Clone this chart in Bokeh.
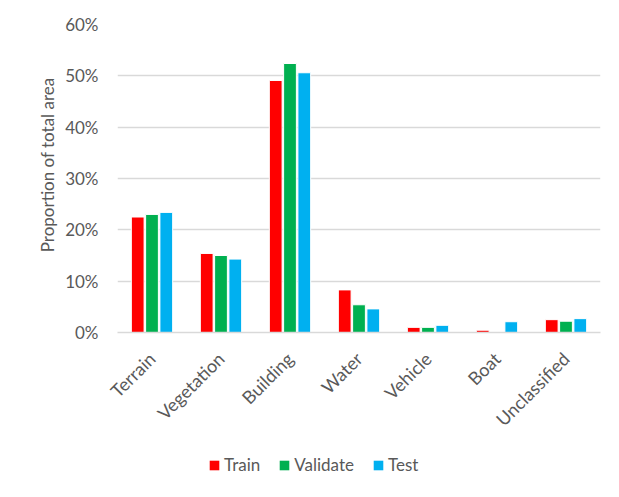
import numpy as np
from bokeh.plotting import figure
from bokeh.layouts import column
from bokeh.models import (ColumnDataSource, FactorRange, Range1d, NumeralTickFormatter, Legend,
                          LegendItem, FixedTicker, Title)
from bokeh.transform import dodge
from bokeh.embed import file_html
from bokeh.resources import INLINE

categories = ["Terrain", "Vegetation", "Building", "Water", "Vehicle", "Boat", "Unclassified"]
train = [0.225, 0.154, 0.491, 0.083, 0.010, 0.0045, 0.025]
validate = [0.230, 0.150, 0.524, 0.054, 0.010, 0.0, 0.022]
test = [0.234, 0.143, 0.506, 0.046, 0.014, 0.021, 0.027]
series_names = ["Train", "Validate", "Test"]
colors = ["#FF0000", "#00B050", "#00B0F0"]
y_ticks = [0, 0.1, 0.2, 0.3, 0.4, 0.5, 0.6]

FONT = "Lato"
TXT = "#595959"

src = ColumnDataSource(dict(cat=categories, Train=train, Validate=validate, Test=test))

p = figure(x_range=FactorRange(*categories, range_padding=0), y_range=Range1d(0, 0.6),
           width=611, height=440, output_backend="svg", toolbar_location=None,
           min_border_left=117, min_border_right=11, min_border_top=24, min_border_bottom=106)
p.x_range.factor_padding = 0

offsets = [-0.207, 0.0, 0.207]
for name, col, off in zip(series_names, colors, offsets):
    p.vbar(x=dodge("cat", off, range=p.x_range), top=name, width=0.185, source=src,
           fill_color=col, line_color="white", line_width=1)

p.outline_line_color = None
p.xgrid.grid_line_color = None
p.ygrid.grid_line_color = "#D9D9D9"
p.ygrid.grid_line_width = 1.3
p.yaxis.ticker = FixedTicker(ticks=y_ticks)
p.yaxis.formatter = NumeralTickFormatter(format="0%")
p.yaxis.axis_line_color = None
p.yaxis.major_tick_line_color = None
p.yaxis.minor_tick_line_color = None
p.yaxis.major_label_text_font = FONT
p.yaxis.major_label_text_font_size = "17px"
p.yaxis.major_label_text_color = TXT
p.yaxis.major_label_standoff = 13

ytitle = Title(text="Proportion of total area", align="right", offset=53, standoff=10,
               text_font=FONT, text_font_size="17px", text_font_style="normal", text_color=TXT)
p.add_layout(ytitle, "left")

p.xaxis.axis_line_color = "#D9D9D9"
p.xaxis.axis_line_width = 1.3
p.xaxis.major_tick_line_color = None
p.xaxis.minor_tick_line_color = None
p.xaxis.major_label_orientation = np.pi / 4
p.xaxis.major_label_text_font = FONT
p.xaxis.major_label_text_font_size = "18px"
p.xaxis.major_label_text_color = TXT
p.xaxis.major_label_standoff = 17

# legend strip (bars of the legend figure lie outside its visible y range)
q = figure(x_range=FactorRange(*categories), y_range=Range1d(5, 6), width=611, height=49,
           output_backend="svg", toolbar_location=None, x_axis_location=None, y_axis_location=None,
           min_border=0)
q.outline_line_color = None
q.grid.visible = False
leg_rs = [q.vbar(x="cat", top=n, width=0.1, source=src, fill_color=c, line_color=None)
          for n, c in zip(series_names, colors)]
legend = Legend(items=[LegendItem(label=n, renderers=[r]) for n, r in zip(series_names, leg_rs)],
                orientation="horizontal", location=(91, 14),
                glyph_width=12, glyph_height=12, label_standoff=4, spacing=18,
                padding=0, margin=0, border_line_color=None, background_fill_alpha=0,
                label_text_font=FONT, label_text_font_size="17px", label_text_color=TXT)
q.add_layout(legend, "center")

layout = column(p, q, spacing=0)
open("out.html", "w").write(file_html(layout, INLINE))
